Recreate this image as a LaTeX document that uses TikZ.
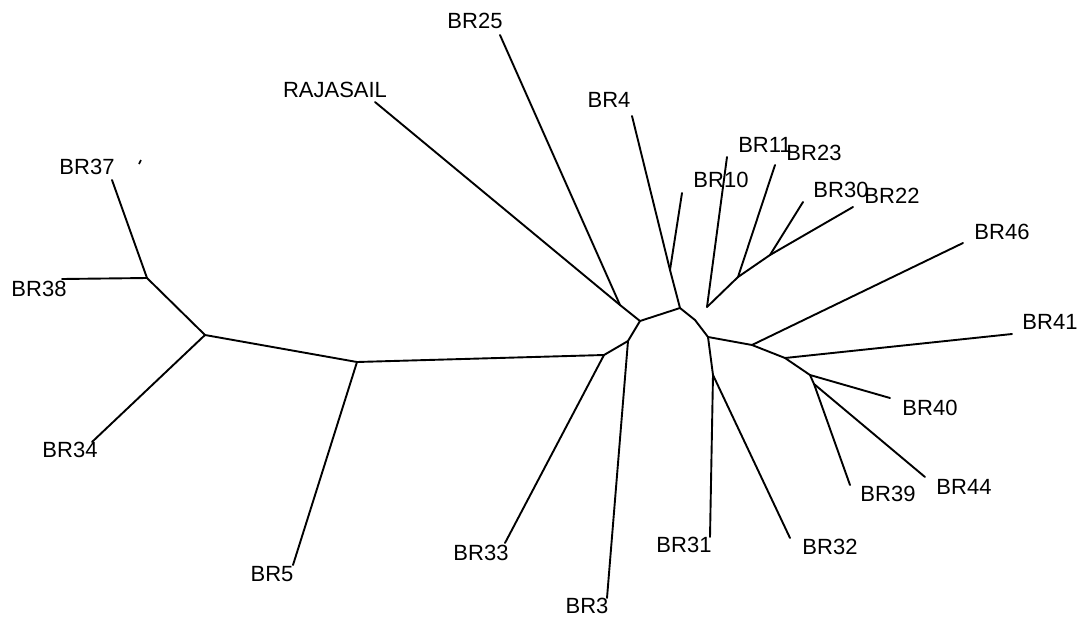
\documentclass[tikz,border=0pt]{standalone}
\usepackage{fontspec}
\setmainfont{Liberation Sans}
\begin{document}
\begin{tikzpicture}[x=1pt,y=-1pt,
  branch/.style={line width=1.9pt,line cap=round,line join=round,black},
  taxon/.style={font=\fontsize{22}{24}\selectfont,inner sep=0pt,anchor=center}]
\useasboundingbox (0,0) rectangle (1088,624);
\fill[white] (0,0) rectangle (1088,624);

% internal vertices
\coordinate (n1) at (620,305);
\coordinate (n2) at (640,321);
\coordinate (n3) at (680,308);
\coordinate (n4) at (628,341);
\coordinate (n5) at (604,355);
\coordinate (l1) at (357,362);
\coordinate (l2) at (205,335);
\coordinate (l3) at (147,278);
\coordinate (n12) at (670,270);
\coordinate (n13) at (695,320);
\coordinate (n6) at (708,337);
\coordinate (n11) at (713,375);
\coordinate (n7) at (752,345);
\coordinate (n8) at (785,358);
\coordinate (n9) at (810,375);
\coordinate (n10) at (814,384);
\coordinate (g1) at (707,307);
\coordinate (g2) at (738,277);
\coordinate (g3) at (770,255);

% leaf tips
\coordinate (tRAJ) at (375,102);
\coordinate (t25) at (500,35);
\coordinate (t3) at (607,598);
\coordinate (t33) at (505,543);
\coordinate (t5) at (293,565);
\coordinate (t34) at (92,442);
\coordinate (t37) at (112,180);
\coordinate (t38) at (62,279);
\coordinate (t4) at (632,116);
\coordinate (t10) at (682,193);
\coordinate (t31) at (710,537);
\coordinate (t32) at (790,538);
\coordinate (t46) at (963,243);
\coordinate (t41) at (1012,334);
\coordinate (t40) at (890,398);
\coordinate (t39) at (850,485);
\coordinate (t44) at (925,477);
\coordinate (t11) at (727,157);
\coordinate (t23) at (775,165);
\coordinate (t30) at (803,202);
\coordinate (t22) at (853,207);

% branches
\draw[branch] (tRAJ) -- (n1);
\draw[branch] (t25) -- (n1);
\draw[branch] (n1) -- (n2) -- (n3);
\draw[branch] (n2) -- (n4) -- (n5);
\draw[branch] (n4) -- (t3);
\draw[branch] (n5) -- (t33);
\draw[branch] (n5) -- (l1);
\draw[branch] (l1) -- (t5);
\draw[branch] (l1) -- (l2);
\draw[branch] (l2) -- (t34);
\draw[branch] (l2) -- (l3);
\draw[branch] (l3) -- (t37);
\draw[branch] (l3) -- (t38);
\draw[branch] (n3) -- (n12);
\draw[branch] (n12) -- (t4);
\draw[branch] (n12) -- (t10);
\draw[branch] (n3) -- (n13) -- (n6);
\draw[branch] (n6) -- (n11);
\draw[branch] (n11) -- (t31);
\draw[branch] (n11) -- (t32);
\draw[branch] (n6) -- (n7);
\draw[branch] (n7) -- (t46);
\draw[branch] (n7) -- (n8);
\draw[branch] (n8) -- (t41);
\draw[branch] (n8) -- (n9);
\draw[branch] (n9) -- (t40);
\draw[branch] (n9) -- (n10);
\draw[branch] (n10) -- (t39);
\draw[branch] (n10) -- (t44);
\draw[branch] (g1) -- (t11);
\draw[branch] (g1) -- (g2);
\draw[branch] (g2) -- (t23);
\draw[branch] (g2) -- (g3);
\draw[branch] (g3) -- (t30);
\draw[branch] (g3) -- (t22);

% stray tick beside BR37
\coordinate (s1) at (139,164);
\coordinate (s2) at (141,160);
\draw[line width=1.6pt] (s1) -- (s2);

% taxon labels
\node[taxon] (lRAJ) at (335,90) {RAJASAIL};
\node[taxon] (l25) at (475,21) {BR25};
\node[taxon] (l4) at (609,100) {BR4};
\node[taxon] (l10) at (721,180) {BR10};
\node[taxon] (l11) at (765,145) {BR11};
\node[taxon] (l23) at (814,153) {BR23};
\node[taxon] (l30) at (841,190) {BR30};
\node[taxon] (l22) at (892,196) {BR22};
\node[taxon] (l46) at (1002,232) {BR46};
\node[taxon] (l41) at (1050,322) {BR41};
\node[taxon] (l40) at (930,408) {BR40};
\node[taxon] (l44) at (964,487) {BR44};
\node[taxon] (l39) at (888,494) {BR39};
\node[taxon] (l32) at (830,547) {BR32};
\node[taxon] (l31) at (684,545) {BR31};
\node[taxon] (l3) at (587,606) {BR3};
\node[taxon] (l33) at (481,553) {BR33};
\node[taxon] (l5) at (272,574) {BR5};
\node[taxon] (l34) at (70,450) {BR34};
\node[taxon] (l38) at (39,289) {BR38};
\node[taxon] (l37) at (87,167) {BR37};
\end{tikzpicture}
\end{document}
